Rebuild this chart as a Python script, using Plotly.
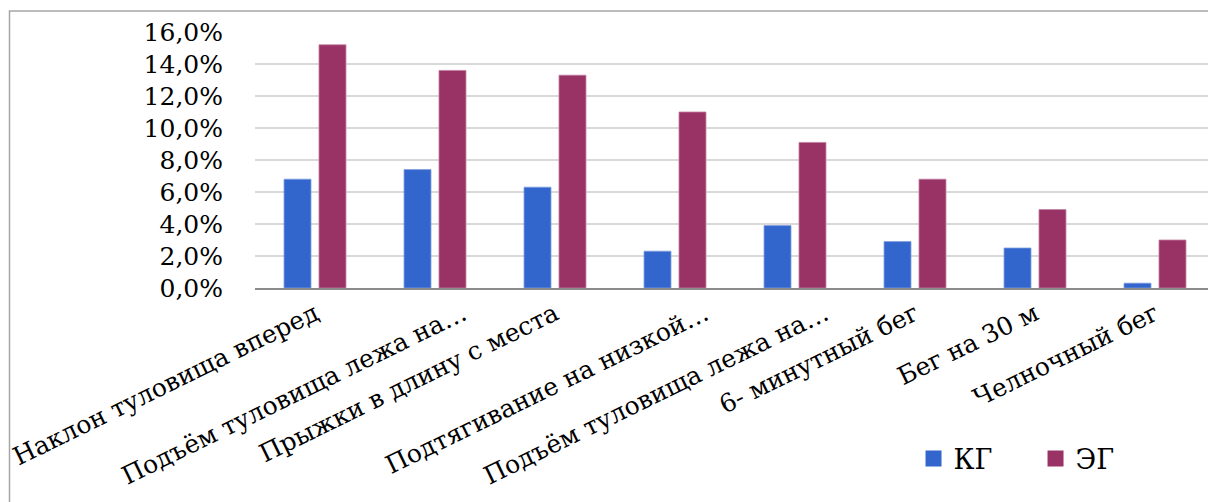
import plotly.graph_objects as go

categories = [
    "Наклон туловища вперед",
    "Подъём туловища лежа на…",
    "Прыжки в длину с места",
    "Подтягивание на низкой…",
    "Подъём туловища лежа на…",
    "6- минутный бег",
    "Бег на 30 м",
    "Челночный бег",
]
kg_values = [6.8, 7.4, 6.3, 2.3, 3.9, 2.9, 2.5, 0.3]
eg_values = [15.2, 13.6, 13.3, 11.0, 9.1, 6.8, 4.9, 3.0]
y_ticks = [0, 2, 4, 6, 8, 10, 12, 14, 16]
y_tick_labels = ["0,0%", "2,0%", "4,0%", "6,0%", "8,0%", "10,0%", "12,0%", "14,0%", "16,0%"]
series_names = ["КГ", "ЭГ"]
colors = ["#3366CC", "#993366"]
edge_colors = ["#7F9CE0", "#C07FA0"]

W, H = 1208, 502
L, R, T, B = 255, 0, 32, 214
FONT = "DejaVu Serif"
CAT_PX = 120.0
# truncated (ellipsised) labels sit further right, as in the original
label_shift_px = [0, 28, 0, 30, 30, 0, 0, 0]

x_idx = list(range(len(categories)))
tick_pos = [i + s / CAT_PX for i, s in zip(x_idx, label_shift_px)]

fig = go.Figure()
for name, vals, c, ec in zip(series_names, [kg_values, eg_values], colors, edge_colors):
    fig.add_trace(go.Bar(x=x_idx, y=vals, name=name, marker=dict(color=c, line=dict(color=ec, width=0.8)),
                         showlegend=False))
for name, c in zip(series_names, colors):
    fig.add_trace(go.Scatter(x=[None], y=[None], mode="markers", name=name,
                             marker=dict(symbol="square", size=16, color=c)))

pw = W - L - R
span = pw / CAT_PX
fig.update_layout(
    width=W, height=H,
    margin=dict(l=L, r=R, t=T, b=B, pad=0, autoexpand=False),
    paper_bgcolor="white", plot_bgcolor="white",
    barmode="group", bargap=0.417, bargroupgap=0.229,
    font=dict(family=FONT, size=26, color="black"),
    xaxis=dict(range=[-0.5, -0.5 + span], tickvals=tick_pos, ticktext=categories, tickangle=-26,
               showgrid=False, zeroline=False, showline=True, linecolor="#8C8C8C", linewidth=1.5,
               ticks="", automargin=False, tickfont=dict(family=FONT, size=25, color="black")),
    yaxis=dict(range=[0, 16], tickvals=y_ticks, ticktext=y_tick_labels, showgrid=True,
               gridcolor="#D9D9D9", gridwidth=1.5, zeroline=False, showline=False, ticks="",
               automargin=False, ticklabelstandoff=31, tickfont=dict(family=FONT, size=25, color="black")),
    legend=dict(orientation="h", x=0.691, y=-0.668, xanchor="left", yanchor="middle",
                entrywidth=77, entrywidthmode="pixels", font=dict(family=FONT, size=27, color="black"),
                bgcolor="rgba(0,0,0,0)", itemsizing="trace"),
    shapes=[dict(type="rect", xref="paper", yref="paper",
                 x0=(9.5 - L) / pw, x1=1.2, y0=-1.0, y1=(288 - 11) / 256.0,
                 line=dict(color="#A6A6A6", width=1.5), fillcolor="rgba(0,0,0,0)", layer="below")],
)
fig.write_html("out.html", config={"displayModeBar": False})
